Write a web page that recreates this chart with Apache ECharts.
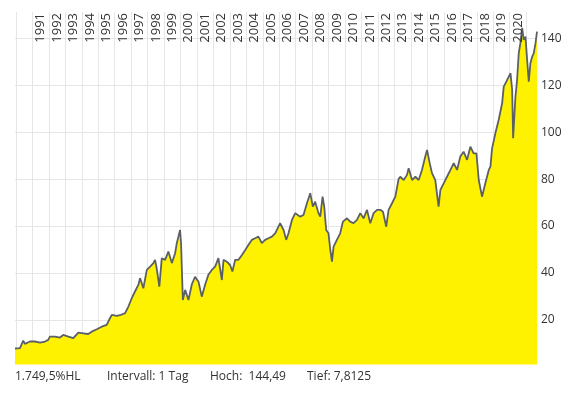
<!DOCTYPE html>
<html><head><meta charset="utf-8">
<script src="https://cdn.jsdelivr.net/npm/echarts@6/dist/echarts.min.js"></script>
<style>html,body{margin:0;padding:0;background:#fff}#c{width:569px;height:393px}</style>
</head><body><div id="c"></div>
<script>
const years = [1989.94,1990.24,1990.44,1990.54,1990.85,1991.15,1991.46,1991.76,1991.96,1992.06,1992.37,1992.67,1992.87,1993.18,1993.48,1993.79,1994.09,1994.39,1994.60,1994.91,1995.21,1995.51,1995.71,1995.82,1996.12,1996.32,1996.63,1996.83,1997.03,1997.23,1997.44,1997.54,1997.74,1997.95,1998.15,1998.35,1998.45,1998.55,1998.71,1998.86,1999.06,1999.26,1999.47,1999.67,1999.77,1999.87,1999.97,2000.03,2000.14,2000.28,2000.48,2000.68,2000.88,2001.09,2001.29,2001.49,2001.69,2001.90,2002.10,2002.30,2002.51,2002.61,2002.81,2003.01,2003.15,2003.32,2003.52,2003.73,2003.93,2004.13,2004.33,2004.53,2004.73,2004.94,2005.14,2005.34,2005.55,2005.75,2006.05,2006.26,2006.42,2006.56,2006.77,2006.97,2007.27,2007.47,2007.68,2007.88,2008.04,2008.18,2008.38,2008.49,2008.63,2008.73,2008.85,2008.99,2009.10,2009.20,2009.30,2009.50,2009.70,2009.87,2010.11,2010.31,2010.51,2010.72,2010.92,2011.12,2011.33,2011.53,2011.73,2011.94,2012.14,2012.30,2012.50,2012.64,2012.85,2013.05,2013.25,2013.35,2013.56,2013.76,2013.86,2014.07,2014.27,2014.47,2014.67,2014.87,2014.98,2015.14,2015.28,2015.48,2015.68,2015.79,2015.99,2016.19,2016.40,2016.60,2016.80,2017.00,2017.20,2017.41,2017.61,2017.81,2017.98,2018.12,2018.32,2018.52,2018.73,2018.83,2018.93,2019.13,2019.33,2019.54,2019.64,2019.84,2020.05,2020.15,2020.21,2020.35,2020.45,2020.55,2020.65,2020.76,2020.85,2020.96,2021.06,2021.16,2021.26,2021.37,2021.46,2021.57,2021.66];
const prices = [7.81,8.0,11.2,9.8,10.8,10.8,10.3,10.8,11.5,12.9,12.9,12.5,13.6,12.9,12.2,14.6,14.3,14.0,15.0,16.0,17.1,17.9,20.7,22.1,21.7,22.0,22.9,25.7,29.2,32.1,35.0,37.8,33.5,41.3,42.7,44.2,45.6,42.0,34.2,46.3,45.6,49.1,44.2,48.4,52.7,55.5,58.3,52.7,28.5,32.8,28.5,35.0,38.4,36.3,29.9,35.0,39.2,41.3,42.7,46.3,37.0,45.6,44.8,43.4,40.6,45.6,45.6,47.7,49.8,52.0,54.1,54.8,55.5,52.7,54.1,54.8,55.5,56.9,61.2,58.3,54.1,56.9,62.6,65.5,64.0,64.7,69.7,74.0,68.3,70.4,65.5,64.0,72.5,68.3,58.3,56.9,49.8,44.8,51.2,54.1,56.9,61.9,63.3,61.9,61.2,62.6,65.5,63.3,66.9,61.2,65.5,66.9,66.9,66.1,59.7,66.9,69.7,72.5,80.0,81.0,79.6,81.8,84.6,79.6,81.0,79.6,83.9,89.6,92.4,86.8,82.5,79.6,68.3,75.4,78.2,81.0,83.9,86.8,83.9,89.6,91.7,88.2,93.8,91.0,91.0,79.6,72.5,78.2,83.9,85.3,93.1,99.5,105.2,112.3,119.4,122.2,125.1,118.0,97.4,115.1,122.2,133.6,137.9,144.49,139.3,140.7,130.8,121.5,129.4,132.2,133.6,137.9,142.8];
const yearLines = [1990,1991,1992,1993,1994,1995,1996,1997,1998,1999,2000,2001,2002,2003,2004,2005,2006,2007,2008,2009,2010,2011,2012,2013,2014,2015,2016,2017,2018,2019,2020,2021];
const yearLabels = [1991,1992,1993,1994,1995,1996,1997,1998,1999,2000,2001,2002,2003,2004,2005,2006,2007,2008,2009,2010,2011,2012,2013,2014,2015,2016,2017,2018,2019,2020];
const yTicks = [20,40,60,80,100,120,140];
const footer = ['1.749,5%HL','Intervall: 1 Tag','Hoch:  144,49','Tief: 7,8125'];

const FONT = '"Open Sans", sans-serif';
const chart = echarts.init(document.getElementById('c'), null, {renderer:'canvas'});
chart.setOption({
  animation:false,
  grid:{left:15,right:32,top:12,bottom:28.5,containLabel:false,outerBoundsMode:'none'},
  xAxis:{
    type:'value', position:'top', min:1989.94, max:2021.66,
    axisLine:{show:false},
    axisTick:{show:false, customValues:yearLines},
    splitLine:{show:true,lineStyle:{color:'#e6e6e6',width:1}},
    axisLabel:{show:false, customValues:yearLabels}
  },
  yAxis:{
    type:'value', position:'right', min:1, max:151.2,
    axisLine:{show:false}, axisTick:{show:false, customValues:yTicks},
    splitLine:{show:true,lineStyle:{color:'#e6e6e6',width:1}},
    axisLabel:{customValues:yTicks, margin:4, color:'#333', fontSize:12, fontFamily:FONT}
  },
  series:[{
    type:'line', data:years.map((y,i)=>[y,prices[i]]), showSymbol:false,
    lineStyle:{color:'#5b6067',width:1.8}, areaStyle:{color:'#fff200',opacity:1}
  }]
});
const yearTexts = yearLabels.map(y=>({
  type:'text', x: chart.convertToPixel({xAxisIndex:0}, y+0.5), y: 13, rotation: Math.PI/2,
  z: 100,
  style:{text:String(y), font:'13px "Open Sans", sans-serif', fill:'#333', textAlign:'right', textVerticalAlign:'middle'}
}));
const footTexts = footer.map((t,i)=>({type:'text', left:[15,107,210,307][i], top:371,
    style:{text:t, font:'12px "Open Sans", sans-serif', fill:'#333'}}));
chart.setOption({graphic: yearTexts.concat(footTexts)});
</script></body></html>
